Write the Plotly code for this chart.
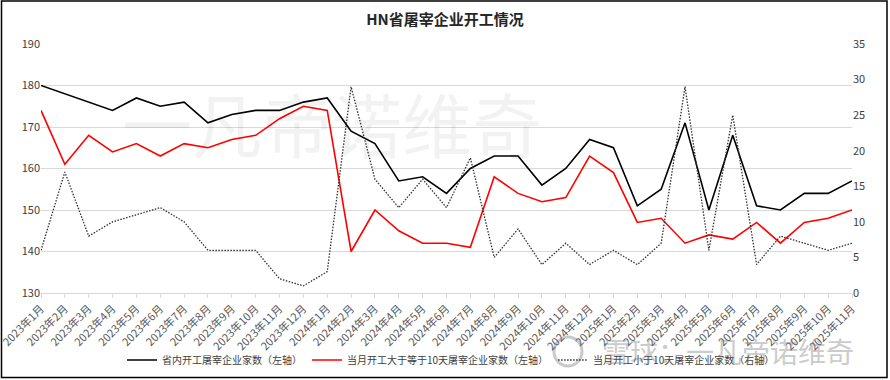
import plotly.graph_objects as go

months = [f"{y}年{m}月" for y in (2023, 2024, 2025) for m in range(1, 13)][:35]

total_open = [180, 178, 176, 174, 177, 175, 176, 171, 173, 174, 174, 176,
              177, 169, 166, 157, 158, 154, 160, 163, 163, 156, 160, 167,
              165, 151, 155, 171, 150, 168, 151, 150, 154, 154, 157]
open_ge10 = [174, 161, 168, 164, 166, 163, 166, 165, 167, 168, 172, 175,
             174, 140, 150, 145, 142, 142, 141, 158, 154, 152, 153, 163,
             159, 147, 148, 142, 144, 143, 147, 142, 147, 148, 150]
open_lt10 = [6, 17, 8, 10, 11, 12, 10, 6, 6, 6, 2, 1,
             3, 29, 16, 12, 16, 12, 19, 5, 9, 4, 7, 4,
             6, 4, 7, 29, 6, 25, 4, 8, 7, 6, 7]

names = ["省内开工屠宰企业家数（左轴）",
         "当月开工大于等于10天屠宰企业家数（左轴）",
         "当月开工小于10天屠宰企业家数（右轴）"]

FONT = "Noto Sans CJK SC"
W, H = 890, 380
L, R, T, B = 41, 38, 44, 87
pw, ph = W - L - R, H - T - B

fig = go.Figure()
fig.add_trace(go.Scatter(x=months, y=total_open, name=names[0], mode="lines",
                         line=dict(color="#000000", width=1.6)))
fig.add_trace(go.Scatter(x=months, y=open_ge10, name=names[1], mode="lines",
                         line=dict(color="#FF0000", width=1.6)))
fig.add_trace(go.Scatter(x=months, y=open_lt10, name=names[2], mode="lines",
                         yaxis="y2", line=dict(color="#303030", width=1.3, dash="1.5px,1.5px")))

def cx(x):
    return x / W

def cy(y):
    return 1 - y / H

fig.update_layout(
    width=W, height=H,
    margin=dict(l=L, r=R, t=T, b=B, autoexpand=False),
    paper_bgcolor="white", plot_bgcolor="white",
    font=dict(family=FONT, size=11, color="#595959"),
    title=dict(text="<b>HN省屠宰企业开工情况</b>", x=0.5, xanchor="center",
               y=cy(20), yanchor="middle",
               font=dict(family=FONT, size=15, color="#262626")),
    xaxis=dict(type="category", range=[0, 34], tickangle=-45,
               showline=True, linecolor="#D9D9D9", linewidth=1,
               ticks="outside", ticklen=4, tickcolor="#D9D9D9",
               showgrid=False, tickfont=dict(size=11, color="#595959"),
               automargin=False),
    yaxis=dict(range=[130, 190], dtick=10, showgrid=True, gridcolor="#D9D9D9",
               gridwidth=1, zeroline=False, showline=False,
               tickfont=dict(size=11, color="#404040"), automargin=False),
    yaxis2=dict(range=[0, 35], dtick=5, overlaying="y", side="right",
                showgrid=False, zeroline=False, showline=False,
                tickfont=dict(size=11, color="#404040"), automargin=False),
    legend=dict(orientation="h", xref="container", yref="container",
                x=cx(451), xanchor="center", y=cy(360), yanchor="middle",
                font=dict(size=10, color="#404040"), itemwidth=30,
                bgcolor="rgba(0,0,0,0)"),
    showlegend=True,
)

# watermarks (positions in paper space derived from pixel positions)
def px_x(x):
    return (x - L) / pw

def px_y(y):
    return (H - B - y) / ph

fig.add_annotation(text="一凡帝诺维奇", xref="paper", yref="paper",
                   x=px_x(332), y=px_y(123), xanchor="center", yanchor="middle",
                   showarrow=False,
                   font=dict(family=FONT, size=70, color="rgba(0,0,0,0.05)"))
fig.add_annotation(text="雪球：一凡帝诺维奇", xref="paper", yref="paper",
                   x=px_x(728), y=px_y(351), xanchor="center", yanchor="middle",
                   showarrow=False,
                   font=dict(family=FONT, size=28, color="rgba(120,120,120,0.4)"))
fig.add_shape(type="circle", xref="paper", yref="paper",
              x0=px_x(554), x1=px_x(582), y0=px_y(366), y1=px_y(337),
              line=dict(color="rgba(120,120,120,0.4)", width=3))

# outer frame
fig.add_shape(type="rect", xref="paper", yref="paper",
              x0=px_x(1.5), x1=px_x(887), y0=px_y(377.5), y1=px_y(1),
              line=dict(color="#000000", width=1.5), layer="above")

fig.write_html("out.html", config={"displayModeBar": False},
               post_script="document.body.style.margin='0';document.body.style.overflow='hidden';")
